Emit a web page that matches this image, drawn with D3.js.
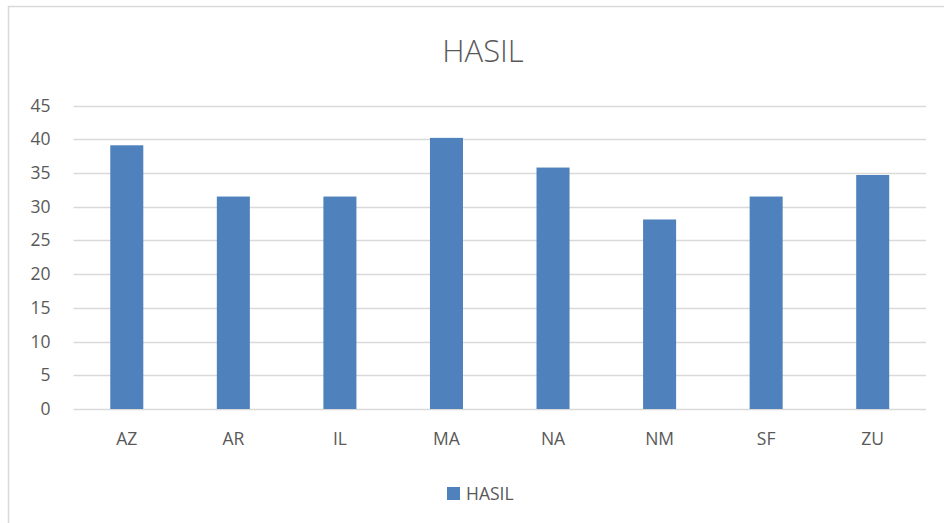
<!DOCTYPE html>
<html lang="en">
<head>
  <meta charset="utf-8">
  <title>HASIL</title>
  <style>
    html,body { margin:0; padding:0; background:#fff; }
    svg { display:block; }
    text { font-family: "Open Sans", "Noto Sans", sans-serif; fill:#595959; }
  </style>
  <script src="https://d3js.org/d3.v7.min.js"></script>
</head>
<body>
<svg></svg>
<script>
// bar values
const categories = ["AZ", "AR", "IL", "MA", "NA", "NM", "SF", "ZU"];
const hasil = [39.1, 31.5, 31.5, 40.2, 35.8, 28.1, 31.5, 34.7];
const yTicks = [0, 5, 10, 15, 20, 25, 30, 35, 40, 45];
const seriesName = "HASIL";

const width = 944, height = 523;
const margin = {top: 105.5, right: 18, bottom: 114, left: 73.5};
const barColor = "#4f81bd";

const svg = d3.select("svg").attr("width", width).attr("height", height);

// chart frame (right and bottom edges fall outside the window)
svg.append("rect")
  .attr("x", 8.5).attr("y", 6.5)
  .attr("width", 960).attr("height", 540)
  .attr("fill", "#fff")
  .attr("stroke", "#d9d9d9")
  .attr("stroke-width", 1.5);

const x = d3.scaleBand()
  .domain(categories)
  .range([margin.left, width - margin.right])
  .paddingInner(0.69)
  .paddingOuter(0.345);

const y = d3.scaleLinear()
  .domain([0, 45])
  .range([height - margin.bottom, margin.top]);

// gridlines
svg.append("g")
  .selectAll("line")
  .data(yTicks)
  .join("line")
    .attr("x1", margin.left)
    .attr("x2", width - margin.right)
    .attr("y1", d => Math.round(y(d)) + 0.5)
    .attr("y2", d => Math.round(y(d)) + 0.5)
    .attr("stroke", "#d9d9d9")
    .attr("stroke-width", 1.5);

// y axis labels
const yAxis = svg.append("g")
  .attr("transform", `translate(${margin.left},0)`)
  .call(d3.axisLeft(y).tickValues(yTicks).tickSize(0).tickPadding(23));
yAxis.select(".domain").remove();
yAxis.selectAll("text")
  .style("font-size", "17.5px")
  .attr("fill", "#595959");

// bars
svg.append("g")
  .selectAll("rect")
  .data(hasil)
  .join("rect")
    .attr("x", (d, i) => x(categories[i]))
    .attr("y", d => y(d))
    .attr("width", x.bandwidth())
    .attr("height", d => y(0) - y(d))
    .attr("fill", barColor);

// x axis labels
const xAxis = svg.append("g")
  .attr("transform", `translate(0,${height - margin.bottom})`)
  .call(d3.axisBottom(x).tickSize(0).tickPadding(24));
xAxis.select(".domain").remove();
xAxis.selectAll("text")
  .style("font-size", "17.5px")
  .attr("fill", "#595959");

// title
svg.append("text")
  .attr("x", 483)
  .attr("y", 62)
  .attr("text-anchor", "middle")
  .style("font-size", "31px")
  .style("font-weight", 300)
  .text(seriesName);

// legend
const legend = svg.append("g").attr("transform", "translate(447,487)");
legend.append("rect")
  .attr("width", 13).attr("height", 13)
  .attr("fill", barColor);
legend.append("text")
  .attr("x", 19)
  .attr("y", 13)
  .style("font-size", "17.5px")
  .text(seriesName);
</script>
</body>
</html>
